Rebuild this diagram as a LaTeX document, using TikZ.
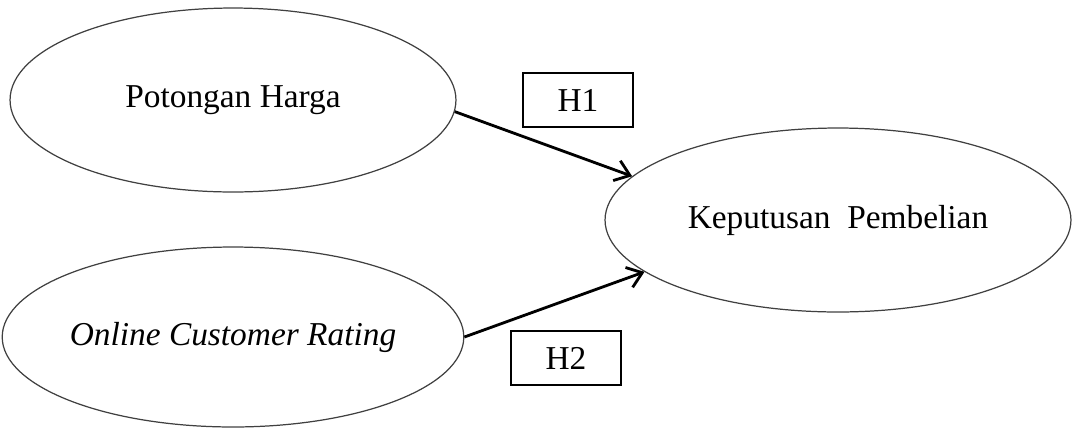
\documentclass[tikz,border=0pt]{standalone}
\usepackage{fontspec}
\setmainfont{Liberation Serif}
\usetikzlibrary{shapes.geometric, arrows.meta, positioning}

\begin{document}
\begin{tikzpicture}[x=0.02cm, y=-0.02cm, >={Straight Barb[length=8pt, width=12pt]},
	var/.style={ellipse, draw=black!75, line width=0.7pt, inner sep=0pt, font=\fontsize{19}{23}\selectfont},
	hyp/.style={draw, line width=1pt, minimum width=2.2cm, minimum height=1.08cm, font=\fontsize{19}{23}\selectfont},
	path/.style={->, line width=1.6pt}]
	
	% Page frame
	\useasboundingbox (0,0) rectangle (1072,427);
	
	% Variables
	\node[var, minimum width=8.92cm, minimum height=3.68cm] (harga) at (233,100) {Potongan Harga};
	\node[var, minimum width=8.92cm, minimum height=3.6cm] (rating) at (233,337) {\textit{Online Customer Rating}};
	\node[var, minimum width=9.32cm, minimum height=3.68cm] (keputusan) at (838,220) {Keputusan\ \ Pembelian};
	
	% Hypotheses
	\node[hyp] (h1) at (578,100) {H1};
	\node[hyp] (h2) at (566,358) {H2};
	
	% Draw paths
	\draw[path] (harga.-3) -- (keputusan.168);
	\draw[path] (rating.east) -- (keputusan.195);

\end{tikzpicture}
\end{document}
